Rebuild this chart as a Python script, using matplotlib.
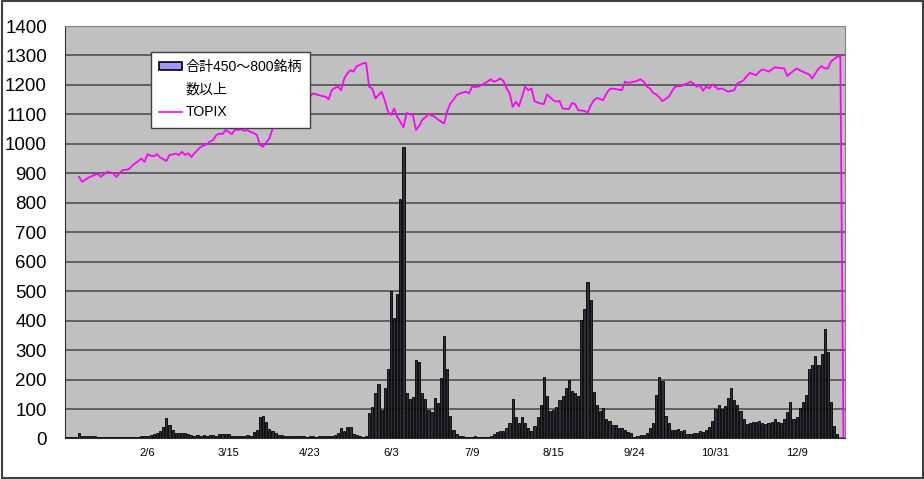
import numpy as np
import matplotlib
matplotlib.use("Agg")
from matplotlib import pyplot as plt
from matplotlib.patches import Patch, Rectangle
from matplotlib.lines import Line2D

plt.rcParams['font.family'] = ['Liberation Sans', 'Noto Sans CJK JP', 'DejaVu Sans']

# daily counts (bars), one value per trading day
counts = [
    4, 6, 5, 5, 20, 10, 9, 10, 8, 9,
    6, 5, 6, 5, 5, 6, 5, 4, 5, 6,
    5, 6, 5, 6, 7, 8, 10, 12, 15, 20,
    26, 38, 68, 47, 28, 20, 19, 18, 19, 14,
    11, 10, 11, 10, 12, 10, 11, 12, 10, 14,
    15, 16, 14, 9, 8, 9, 10, 10, 12, 10,
    22, 30, 72, 76, 55, 32, 25, 17, 12, 11,
    10, 8, 9, 8, 7, 8, 7, 6, 8, 7,
    6, 7, 8, 8, 9, 10, 12, 20, 37, 26,
    40, 40, 15, 12, 10, 6, 8, 88, 108, 153,
    184, 96, 170, 236, 501, 408, 491, 813, 991, 155,
    133, 142, 266, 259, 155, 133, 96, 91, 138, 119,
    206, 347, 235, 76, 28, 14, 8, 7, 6, 5,
    6, 7, 6, 5, 6, 5, 7, 15, 22, 27,
    25, 34, 51, 133, 74, 53, 74, 51, 36, 26,
    42, 74, 113, 210, 145, 94, 96, 108, 130, 145,
    173, 198, 161, 156, 145, 402, 438, 532, 470, 159,
    113, 93, 102, 65, 60, 45, 45, 37, 34, 28,
    23, 17, 6, 10, 11, 12, 19, 36, 51, 147,
    210, 195, 77, 51, 28, 28, 32, 25, 28, 14,
    14, 17, 19, 25, 23, 28, 40, 58, 101, 115,
    100, 111, 137, 170, 130, 115, 93, 66, 49, 52,
    55, 55, 60, 51, 49, 51, 55, 66, 55, 51,
    66, 89, 125, 66, 72, 103, 123, 149, 237, 251,
    279, 250, 286, 370, 293, 123, 41, 15, 3, 0,
]

nan = np.nan
topix = [
    nan, nan, nan, nan, 888, 871, 878, 885, 890, 895,
    899, 888, 897, 905, 903, 900, 887, 900, 911, 912,
    914, 925, 934, 942, 950, 939, 965, 960, 958, 965,
    954, 948, 942, 962, 964, 967, 962, 973, 962, 968,
    955, 968, 979, 990, 994, 999, 1008, 1013, 1030, 1035,
    1033, 1047, 1040, 1033, 1049, 1047, 1050, 1044, 1047, 1040,
    1037, 1030, 996, 990, 1005, 1018, 1050, 1080, 1100, 1120,
    1125, 1115, 1130, 1128, 1140, 1135, 1138, 1143, 1160, 1171,
    1168, 1165, 1162, 1160, 1151, 1182, 1190, 1194, 1182, 1222,
    1239, 1250, 1245, 1264, 1268, 1273, 1275, 1194, 1188, 1154,
    1166, 1177, 1148, 1110, 1098, 1120, 1092, 1075, 1056, 1105,
    1100, 1098, 1047, 1060, 1081, 1090, 1101, 1096, 1092, 1083,
    1076, 1069, 1110, 1137, 1150, 1165, 1171, 1174, 1177, 1171,
    1194, 1193, 1194, 1200, 1205, 1212, 1219, 1211, 1215, 1222,
    1214, 1190, 1171, 1126, 1143, 1128, 1160, 1194, 1182, 1188,
    1145, 1140, 1137, 1135, 1168, 1158, 1148, 1143, 1146, 1120,
    1119, 1118, 1139, 1135, 1114, 1113, 1112, 1105, 1130, 1148,
    1156, 1152, 1148, 1170, 1185, 1188, 1186, 1184, 1182, 1211,
    1207, 1209, 1211, 1215, 1219, 1211, 1194, 1188, 1173, 1168,
    1158, 1145, 1152, 1160, 1178, 1194, 1196, 1196, 1202, 1205,
    1211, 1205, 1194, 1199, 1180, 1194, 1188, 1202, 1193, 1185,
    1188, 1183, 1177, 1180, 1182, 1205, 1210, 1216, 1230, 1241,
    1237, 1233, 1245, 1253, 1250, 1245, 1252, 1260, 1258, 1257,
    1256, 1230, 1239, 1248, 1256, 1250, 1245, 1240, 1236, 1222,
    1239, 1255, 1264, 1256, 1256, 1279, 1288, 1296, 1298, 0,
]

date_labels = ["2/6", "3/15", "4/23", "6/3", "7/9", "8/15", "9/24", "10/31", "12/9"]
label_every = 26

n = len(counts)
x = np.arange(n)

fig = plt.figure(figsize=(9.24, 4.79), dpi=100)
ax = fig.add_axes([0.0703, 0.0846, 0.8442, 0.8611])
ax.set_facecolor('#c0c0c0')

# gridlines behind bars
ax.set_axisbelow(True)
ax.yaxis.grid(True, color='#505050', linewidth=1.2)

# bars are so thin in the original that they read as near-black
ax.bar(x, counts, width=0.7, color='#2e2e3a', edgecolor='black', linewidth=0.6, zorder=2)
ax.plot(x[:len(topix)], topix, color='#ff00ff', linewidth=1.3, zorder=3)

ax.set_xlim(-0.5, n - 0.5)
ax.set_ylim(0, 1400)
ax.set_yticks(np.arange(0, 1401, 100))
ax.tick_params(axis='y', length=0, pad=13, labelsize=13.5)

tick_pos = [label_every * (i + 1) for i in range(len(date_labels))]
ax.set_xticks(tick_pos)
ax.set_xticklabels(date_labels)
ax.tick_params(axis='x', length=0, pad=7, labelsize=8)

for s in ['top', 'right']:
    ax.spines[s].set_color('#808080')
for s in ['left', 'bottom']:
    ax.spines[s].set_color('#303030')

handles = [
    Patch(facecolor='#9999ff', edgecolor='black', linewidth=1.2),
    Patch(visible=False),
    Line2D([], [], color='#ff00ff', linewidth=1.2),
]
labels = ["合計450～800銘柄", "数以上", "TOPIX"]
leg = ax.legend(handles, labels, loc='upper left', bbox_to_anchor=(0.110, 0.938),
                borderaxespad=0, fontsize=10.1, frameon=True, fancybox=False,
                framealpha=1, edgecolor='#404040', handlelength=1.6,
                handleheight=0.4, handletextpad=0.25, labelspacing=0.62,
                borderpad=0.6)
leg.get_frame().set_linewidth(1.0)
leg.set_zorder(5)

# chart-area border
fig.patches.append(Rectangle((0.0022, 0.0027), 0.9964, 0.9953, transform=fig.transFigure,
                             fill=False, edgecolor='#404040', linewidth=1.5))

fig.savefig('out.png', dpi=100)
